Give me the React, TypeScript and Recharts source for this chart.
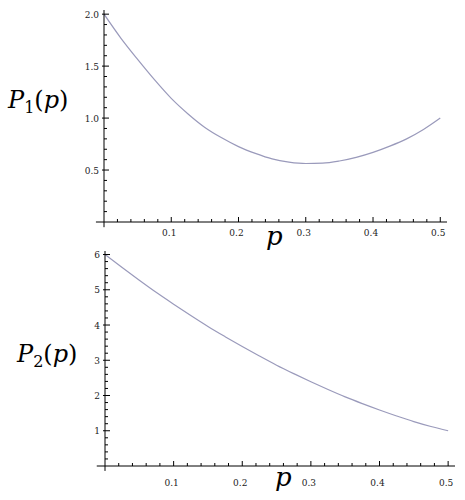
import React from 'react';
import { LineChart, Line, XAxis, YAxis, ReferenceLine } from 'recharts';

// values
const pValues = [0, 0.025, 0.05, 0.075, 0.1, 0.125, 0.15, 0.175, 0.2, 0.225, 0.25, 0.275, 0.3, 0.325, 0.35, 0.375, 0.4, 0.425, 0.45, 0.475, 0.5];
const p1Values = [2.0, 1.77, 1.565, 1.37, 1.19, 1.04, 0.91, 0.81, 0.725, 0.66, 0.607, 0.577, 0.563, 0.566, 0.587, 0.622, 0.67, 0.73, 0.8, 0.89, 1.0];
const p2Values = [6.0, 5.63, 5.27, 4.92, 4.59, 4.27, 3.96, 3.67, 3.39, 3.12, 2.86, 2.62, 2.39, 2.17, 1.96, 1.77, 1.59, 1.42, 1.26, 1.12, 1.0];

// tick positions (minor + major)
const xTicks = [0, 0.02, 0.04, 0.06, 0.08, 0.1, 0.12, 0.14, 0.16, 0.18, 0.2, 0.22, 0.24, 0.26, 0.28, 0.3, 0.32, 0.34, 0.36, 0.38, 0.4, 0.42, 0.44, 0.46, 0.48, 0.5];
const xMajor = [0.1, 0.2, 0.3, 0.4, 0.5];
const y1Ticks = [0.1, 0.2, 0.3, 0.4, 0.5, 0.6, 0.7, 0.8, 0.9, 1.0, 1.1, 1.2, 1.3, 1.4, 1.5, 1.6, 1.7, 1.8, 1.9, 2.0];
const y1Major = [0.5, 1.0, 1.5, 2.0];
const y2Ticks = [0.2, 0.4, 0.6, 0.8, 1, 1.2, 1.4, 1.6, 1.8, 2, 2.2, 2.4, 2.6, 2.8, 3, 3.2, 3.4, 3.6, 3.8, 4, 4.2, 4.4, 4.6, 4.8, 5, 5.2, 5.4, 5.6, 5.8, 6];
const y2Major = [1, 2, 3, 4, 5, 6];

const data1 = pValues.map((p, i) => ({ p, v: p1Values[i] }));
const data2 = pValues.map((p, i) => ({ p, v: p2Values[i] }));

const curveColor = '#9a9abb';
const serif = "'DejaVu Serif', 'Liberation Serif', serif";

const isIn = (list: number[], v: number) => list.some((m) => Math.abs(m - v) < 1e-6);

const makeXTick = (labelDy: number) => (props: any) => {
  const { x, y, payload } = props;
  const major = isIn(xMajor, payload.value);
  if (payload.value === 0) return <g />;
  return (
    <g>
      <line x1={x} y1={y} x2={x} y2={y - (major ? 5 : 3)} stroke="#000" strokeWidth={1} />
      {major && (
        <text x={x - 2} y={y + labelDy} textAnchor="middle" fontSize={9} fontFamily={serif} fill="#222">
          {payload.value.toFixed(1)}
        </text>
      )}
    </g>
  );
};

const makeYTick = (majors: number[], fmt: (v: number) => string) => (props: any) => {
  const { x, y, payload } = props;
  const major = isIn(majors, payload.value);
  return (
    <g>
      <line x1={major ? x - 2 : x} y1={y} x2={x + (major ? 5 : 3)} y2={y} stroke="#000" strokeWidth={1} />
      {major && (
        <text x={x - 5} y={y + 3.5} textAnchor="end" fontSize={9} fontFamily={serif} fill="#222">
          {fmt(payload.value)}
        </text>
      )}
    </g>
  );
};

const FuncLabel: React.FC<{ sub: string; left: number; top: number }> = ({ sub, left, top }) => (
  <div style={{ position: 'absolute', left, top, fontFamily: serif, fontSize: 24, lineHeight: 1, color: '#000', whiteSpace: 'nowrap' }}>
    <i>P</i>
    <span style={{ fontSize: 16, position: 'relative', top: 5 }}>{sub}</span>
    <span>(</span>
    <i>p</i>
    <span>)</span>
  </div>
);

const AxisName: React.FC<{ left: number; top: number }> = ({ left, top }) => (
  <div style={{ position: 'absolute', left, top, fontFamily: serif, fontSize: 26, lineHeight: 1, fontStyle: 'italic' }}>p</div>
);

export default function App() {
  return (
    <div style={{ position: 'absolute', left: 0, top: 0, width: 465, height: 500, background: '#fff' }}>
      <div style={{ position: 'absolute', left: 0, top: 0 }}>
        <LineChart width={465} height={250} data={data1} margin={{ top: 10, right: 18, bottom: 27, left: 103 }}>
          <XAxis
            type="number"
            dataKey="p"
            domain={[0, 0.51]}
            ticks={xTicks}
            interval={0}
            height={1}
            tickSize={0}
            tickMargin={0}
            tickLine={false}
            axisLine={{ stroke: '#000' }}
            tick={makeXTick(14)}
            allowDataOverflow
          />
          <YAxis
            type="number"
            domain={[0, 2.04]}
            ticks={y1Ticks}
            interval={0}
            width={1}
            tickSize={0}
            tickMargin={0}
            tickLine={false}
            axisLine={{ stroke: '#000' }}
            tick={makeYTick(y1Major, (v) => v.toFixed(1))}
            allowDataOverflow
          />
          <ReferenceLine segment={[{ x: -0.012, y: 0 }, { x: 0, y: 0 }]} ifOverflow="visible" stroke="#000" />
          <ReferenceLine segment={[{ x: 0, y: -0.05 }, { x: 0, y: 0 }]} ifOverflow="visible" stroke="#000" />
          <Line type="monotone" dataKey="v" stroke={curveColor} strokeWidth={1.2} dot={false} isAnimationActive={false} />
        </LineChart>
      </div>
      <div style={{ position: 'absolute', left: 0, top: 240 }}>
        <LineChart width={465} height={260} data={data2} margin={{ top: 11, right: 10, bottom: 33, left: 104 }}>
          <XAxis
            type="number"
            dataKey="p"
            domain={[0, 0.51]}
            ticks={xTicks}
            interval={0}
            height={1}
            tickSize={0}
            tickMargin={0}
            tickLine={false}
            axisLine={{ stroke: '#000' }}
            tick={makeXTick(20)}
            allowDataOverflow
          />
          <YAxis
            type="number"
            domain={[0, 6.1]}
            ticks={y2Ticks}
            interval={0}
            width={1}
            tickSize={0}
            tickMargin={0}
            tickLine={false}
            axisLine={{ stroke: '#000' }}
            tick={makeYTick(y2Major, (v) => String(v))}
            allowDataOverflow
          />
          <ReferenceLine segment={[{ x: -0.012, y: 0 }, { x: 0, y: 0 }]} ifOverflow="visible" stroke="#000" />
          <ReferenceLine segment={[{ x: 0, y: -0.14 }, { x: 0, y: 0 }]} ifOverflow="visible" stroke="#000" />
          <Line type="monotone" dataKey="v" stroke={curveColor} strokeWidth={1.2} dot={false} isAnimationActive={false} />
        </LineChart>
      </div>
      <FuncLabel sub="1" left={8} top={88} />
      <FuncLabel sub="2" left={17} top={342} />
      <AxisName left={266} top={223} />
      <AxisName left={275} top={464} />
    </div>
  );
}
